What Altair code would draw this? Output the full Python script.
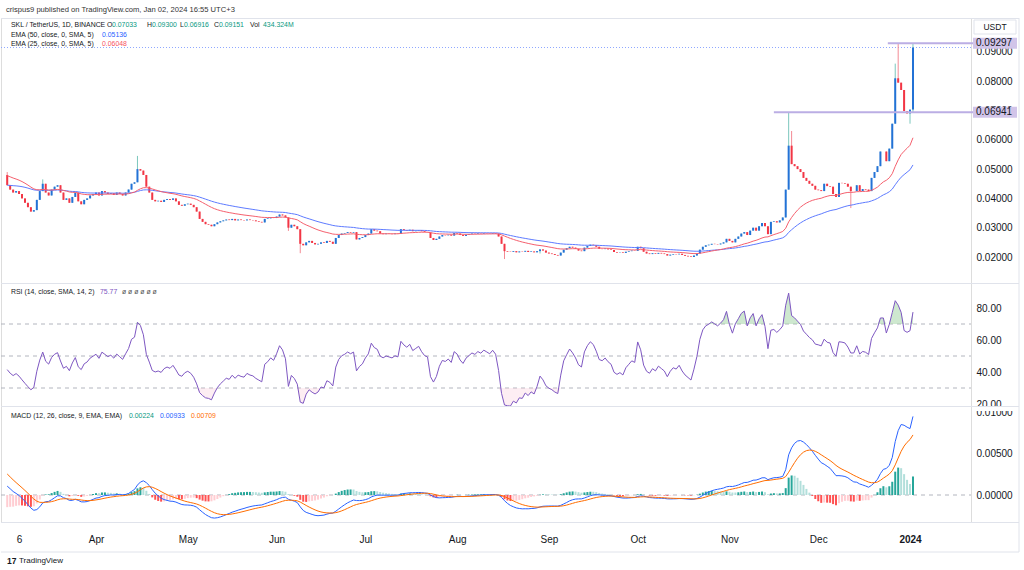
import altair as alt
import pandas as pd
import numpy as np

FONT = "Liberation Sans"

# ---------------- data ----------------
# daily closes, Mar 2 2023 .. Jan 2 2024
close_mar = [0.0445, 0.0430, 0.0420, 0.0425, 0.0415, 0.0400, 0.0385, 0.0370, 0.0355, 0.0360,
             0.0395, 0.0425, 0.0450, 0.0420, 0.0410, 0.0430, 0.0440, 0.0445, 0.0420, 0.0395,
             0.0400, 0.0385, 0.0405, 0.0420, 0.0390, 0.0380, 0.0395, 0.0400, 0.0410, 0.0415]
close_apr = [0.0420, 0.0410, 0.0425, 0.0420, 0.0415, 0.0418, 0.0412, 0.0420, 0.0415, 0.0410,
             0.0420, 0.0430, 0.0450, 0.0455, 0.0500, 0.0495, 0.0480, 0.0440, 0.0420, 0.0395,
             0.0390, 0.0392, 0.0388, 0.0395, 0.0398, 0.0395, 0.0400, 0.0390, 0.0378, 0.0375]
close_may = [0.0380, 0.0382, 0.0378, 0.0370, 0.0355, 0.0330, 0.0320, 0.0312, 0.0310, 0.0305,
             0.0312, 0.0318, 0.0322, 0.0325, 0.0328, 0.0326, 0.0330, 0.0325, 0.0328, 0.0326,
             0.0325, 0.0328, 0.0326, 0.0325, 0.0322, 0.0320, 0.0318, 0.0330, 0.0332, 0.0335, 0.0333]
close_jun = [0.0338, 0.0345, 0.0342, 0.0335, 0.0300, 0.0310, 0.0305, 0.0295, 0.0245, 0.0240,
             0.0250, 0.0255, 0.0248, 0.0243, 0.0245, 0.0250, 0.0248, 0.0255, 0.0252, 0.0245,
             0.0265, 0.0275, 0.0280, 0.0282, 0.0285, 0.0283, 0.0285, 0.0260, 0.0265, 0.0268]
close_jul = [0.0275, 0.0280, 0.0295, 0.0290, 0.0288, 0.0280, 0.0278, 0.0280, 0.0279, 0.0278,
             0.0280, 0.0279, 0.0295, 0.0292, 0.0290, 0.0293, 0.0288, 0.0290, 0.0292, 0.0288,
             0.0285, 0.0284, 0.0265, 0.0258, 0.0262, 0.0270, 0.0275, 0.0274, 0.0276, 0.0273, 0.0282]
close_aug = [0.0280, 0.0275, 0.0272, 0.0276, 0.0278, 0.0280, 0.0279, 0.0281, 0.0280, 0.0282,
             0.0281, 0.0280, 0.0282, 0.0280, 0.0270, 0.0245, 0.0220, 0.0218, 0.0217, 0.0220,
             0.0216, 0.0219, 0.0218, 0.0221, 0.0217, 0.0219, 0.0216, 0.0220, 0.0226, 0.0222, 0.0215]
close_sep = [0.0212, 0.0210, 0.0207, 0.0205, 0.0215, 0.0225, 0.0230, 0.0235, 0.0232, 0.0228,
             0.0222, 0.0220, 0.0232, 0.0238, 0.0242, 0.0240, 0.0235, 0.0228, 0.0227, 0.0229,
             0.0226, 0.0224, 0.0217, 0.0215, 0.0216, 0.0214, 0.0218, 0.0220, 0.0222, 0.0221]
close_oct = [0.0235, 0.0230, 0.0218, 0.0212, 0.0210, 0.0213, 0.0211, 0.0214, 0.0212, 0.0210,
             0.0205, 0.0208, 0.0210, 0.0209, 0.0211, 0.0207, 0.0204, 0.0202, 0.0200, 0.0205,
             0.0212, 0.0225, 0.0235, 0.0240, 0.0242, 0.0245, 0.0244, 0.0243, 0.0246, 0.0250, 0.0262]
close_nov = [0.0255, 0.0250, 0.0262, 0.0270, 0.0280, 0.0285, 0.0275, 0.0290, 0.0300, 0.0290,
             0.0305, 0.0316, 0.0305, 0.0278, 0.0320, 0.0322, 0.0318, 0.0325, 0.0335, 0.0430,
             0.0580, 0.0517, 0.0510, 0.0500, 0.0490, 0.0470, 0.0460, 0.0450, 0.0443, 0.0430]
close_dec = [0.0428, 0.0425, 0.0450, 0.0442, 0.0440, 0.0415, 0.0405, 0.0453, 0.0452, 0.0450,
             0.0440, 0.0425, 0.0425, 0.0445, 0.0425, 0.0432, 0.0430, 0.0425, 0.0470, 0.0490,
             0.0510, 0.0560, 0.0560, 0.0527, 0.0570, 0.0655, 0.0810, 0.0795, 0.0770, 0.0698, 0.0690]
close_jan = [0.0703, 0.0915]

first_open = 0.0480
last_open = 0.07033
# notable wicks (day index -> price)
wick_high = {0: 0.0490, 12: 0.0465, 44: 0.0545, 264: 0.06941, 265: 0.0630,
             300: 0.0860, 301: 0.09297, 306: 0.0930}
wick_low = {95: 0.0289, 99: 0.0213, 168: 0.0193, 180: 0.0212, 285: 0.0367,
            305: 0.0655, 306: 0.06916}

# indicator starting states
ema25_seed, ema50_seed = 0.0480, 0.0445
ema12_seed, ema26_seed, signal_seed = 0.0462, 0.0449, 0.0029
rsi_gain_seed, rsi_loss_seed = 0.0009, 0.0010

level_values = [0.09297, 0.06941]
level_start_days = [297.5, 259.0]

tick_days = [4, 30, 61, 91, 121, 152, 183, 213, 244, 274, 305]
tick_labels = ["6", "Apr", "May", "Jun", "Jul", "Aug", "Sep", "Oct", "Nov", "Dec", "2024"]
price_ticks = [0.02, 0.03, 0.04, 0.05, 0.06, 0.07, 0.08, 0.09]
rsi_ticks = [20, 40, 60, 80]
rsi_levels = [70, 50, 30]
macd_ticks = [0.0, 0.005, 0.01]

# ---------------- derived tables ----------------
closes = (close_mar + close_apr + close_may + close_jun + close_jul + close_aug +
          close_sep + close_oct + close_nov + close_dec + close_jan)
n = len(closes)
opens = [first_open] + closes[:-1]
opens[-1] = last_open
highs = [max(o, c) for o, c in zip(opens, closes)]
lows = [min(o, c) for o, c in zip(opens, closes)]
for k, v in wick_high.items():
    highs[k] = v
for k, v in wick_low.items():
    lows[k] = v


def ema(vals, span, seed):
    a = 2.0 / (span + 1)
    out, e = [], seed
    for v in vals:
        e = e + a * (v - e)
        out.append(e)
    return np.array(out)


ema25 = ema(closes, 25, ema25_seed)
ema50 = ema(closes, 50, ema50_seed)
macd = ema(closes, 12, ema12_seed) - ema(closes, 26, ema26_seed)
signal = ema(macd, 9, signal_seed)
hist = macd - signal

rsi = []
ag, al, prev = rsi_gain_seed, rsi_loss_seed, first_open
for c in closes:
    ch = c - prev
    ag = (ag * 13 + max(ch, 0)) / 14
    al = (al * 13 + max(-ch, 0)) / 14
    rsi.append(100 - 100 / (1 + ag / al))
    prev = c
rsi = np.array(rsi)

UP_BODY, DN_BODY = "#2372D6", "#F23645"
UP_WICK, DN_WICK = "#7CC7BD", "#F38A94"

df = pd.DataFrame({"d": np.arange(n), "o": opens, "c": closes, "h": highs, "l": lows,
                   "ema25": ema25, "ema50": ema50, "rsi": rsi, "macd": macd,
                   "signal": signal, "hist": hist})
up = df["c"] >= df["o"]
df["bc"] = np.where(up, UP_BODY, DN_BODY)
df["wc"] = np.where(up, UP_WICK, DN_WICK)
df["up70"] = np.maximum(df["rsi"], 70)
df["dn30"] = np.minimum(df["rsi"], 30)
df["c70"] = 70.0
df["c30"] = 30.0
df["zero"] = 0.0
hc = []
for i, h in enumerate(hist):
    p = hist[i - 1] if i > 0 else h
    if h >= 0:
        hc.append("#26A69A" if h >= p else "#B2DFDB")
    else:
        hc.append("#FF5252" if h < p else "#FFCDD2")
df["hc"] = hc

levels = pd.DataFrame({"level": level_values, "start": level_start_days,
                       "lab": [f"{v:.5f}" for v in level_values]})
last_px = pd.DataFrame({"p": [closes[-1]]})
rsi_h = pd.DataFrame({"v": rsi_levels})
one = pd.DataFrame({"k": [0]})

# ---------------- layout ----------------
W = 970
H_P, H_R, H_M = 265, 123, 116
BORDER = "#E0E3EB"
TXT = "#131722"
LEG = 6.9

xs = alt.Scale(domain=[-2.1, 325.6], nice=False, zero=False, padding=0)
ps = alt.Scale(domain=[0.01113, 0.10157], nice=False, zero=False, padding=0)
rs = alt.Scale(domain=[18.75, 95.625], nice=False, zero=False, padding=0)
ms = alt.Scale(domain=[-0.003253, 0.010723], nice=False, zero=False, padding=0)


def yaxis(values, fmt):
    return alt.Axis(values=values, format=fmt, orient="right", title=None, grid=False,
                    domain=False, ticks=False, labelPadding=5, labelFontSize=10,
                    labelFont=FONT, labelColor=TXT, labelAlign="left", labelBaseline="middle")


label_expr = " : ".join(f"datum.value == {d} ? '{t}'" for d, t in zip(tick_days, tick_labels)) + " : ''"
time_axis = alt.Axis(values=tick_days, labelExpr=label_expr, title=None, grid=False, domain=False,
                     ticks=False, labelPadding=12, labelFontSize=10, labelFont=FONT,
                     labelColor=TXT, labelFlush=False, labelOverlap=False,
                     labelFontWeight={"condition": {"test": f"datum.value == {tick_days[-1]}",
                                                    "value": "bold"}, "value": "normal"})


def X(f, axis=None):
    return alt.X(f, type="quantitative", scale=xs, axis=axis)


def label(t, x, y, color=TXT, size=LEG, weight="normal", align="left"):
    return alt.Chart(one).mark_text(align=align, baseline="middle", fontSize=size, font=FONT,
                                    color=color, fontWeight=weight).encode(
        x=alt.value(x), y=alt.value(y), text=alt.value(t))


def hrule(y, x1=0, x2=1018, color=BORDER):
    return alt.Chart(one).mark_rule(color=color, strokeWidth=1).encode(
        x=alt.value(x1), x2=alt.value(x2), y=alt.value(y))


def vrule(x, y1, y2, color=BORDER):
    return alt.Chart(one).mark_rule(color=color, strokeWidth=1).encode(
        x=alt.value(x), y=alt.value(y1), y2=alt.value(y2))


# ----- price panel -----
PY = lambda f: alt.Y(f, type="quantitative", scale=ps, axis=yaxis(price_ticks, ".5f"))
base = alt.Chart(df)
wicks = base.mark_rule(strokeWidth=1, clip=True).encode(
    x=X("d"), y=PY("l"), y2="h:Q", color=alt.Color("wc:N", scale=None))
bodies = base.mark_bar(width=2, clip=True).encode(
    x=X("d"), y=PY("o"), y2="c:Q", color=alt.Color("bc:N", scale=None))
l50 = base.mark_line(strokeWidth=1, color="#5E7BFF", clip=True).encode(x=X("d"), y=PY("ema50"))
l25 = base.mark_line(strokeWidth=1, color="#F5606E", clip=True).encode(x=X("d"), y=PY("ema25"))
pline = alt.Chart(last_px).mark_rule(color="#8FA8FF", strokeDash=[1, 2], strokeWidth=1).encode(
    x=alt.value(0), x2=alt.value(W), y=PY("p"))
lev = alt.Chart(levels).mark_rule(color="#BBAEE4", strokeWidth=2).encode(
    x=X("start"), x2=alt.value(1016), y=PY("level"))
lev_box = alt.Chart(levels).mark_rule(color="#D1C4E9", strokeWidth=11, strokeCap="butt").encode(
    x=alt.value(972), x2=alt.value(1016), y=PY("level"))
lev_txt = alt.Chart(levels).mark_text(align="left", baseline="middle", fontSize=10, font=FONT,
                                      color=TXT).encode(x=alt.value(975), y=PY("level"), text="lab:N")

usdt_box = alt.Chart(one).mark_rect(fill="white", stroke=BORDER, strokeWidth=1).encode(
    x=alt.value(973), x2=alt.value(1015), y=alt.value(2), y2=alt.value(16))
price_texts = [
    label("crispus9 published on TradingView.com, Jan 02, 2024 16:55 UTC+3", 5, -8, "#333333", 7.6),
    label("SKL / TetherUS, 1D, BINANCE", 10, 7),
    label("O", 106, 7), label("0.07033", 111, 7, "#089981"),
    label("H", 146, 7), label("0.09300", 151, 7, "#089981"),
    label("L", 179, 7), label("0.06916", 183, 7, "#089981"),
    label("C", 213, 7), label("0.09151", 218, 7, "#089981"),
    label("Vol", 249, 7), label("434.324M", 262, 7, "#089981"),
    label("EMA (50, close, 0, SMA, 5)", 10, 17), label("0.05136", 101, 17, "#2962FF"),
    label("EMA (25, close, 0, SMA, 5)", 10, 26), label("0.06048", 101, 26, "#F7525F"),
    label("USDT", 994, 9, TXT, 8.5, align="center"),
]
top_pad = alt.Chart(one).mark_rule(color="#ffffff", strokeWidth=1).encode(
    x=alt.value(0), x2=alt.value(2), y=alt.value(-17))

price = alt.layer(top_pad, hrule(0.5), vrule(1018, 0, H_P), pline, wicks, bodies, l50, l25,
                  lev, lev_box, lev_txt, usdt_box, *price_texts).properties(width=W, height=H_P)

# ----- RSI panel -----
RY = lambda f: alt.Y(f, type="quantitative", scale=rs, axis=yaxis(rsi_ticks, ".2f"))
rb = alt.Chart(df)
r_hl = alt.Chart(rsi_h).mark_rule(color="#B2B5BE", strokeDash=[4, 4], strokeWidth=1).encode(
    x=alt.value(0), x2=alt.value(W), y=RY("v"))
r_up = rb.mark_area(color="#A5D6A7", opacity=0.55, clip=True).encode(x=X("d"), y=RY("up70"), y2="c70:Q")
r_dn = rb.mark_area(color="#F8BBD0", opacity=0.25, clip=True).encode(x=X("d"), y=RY("dn30"), y2="c30:Q")
r_line = rb.mark_line(color="#7E57C2", strokeWidth=1, clip=True).encode(x=X("d"), y=RY("rsi"))
rsi_texts = [
    label("RSI (14, close, SMA, 14, 2)", 10, 9),
    label("75.77", 99, 9, "#7E57C2"),
    label("ø  ø  ø  ø  ø  ø", 121, 9, "#555555"),
]
rsi_panel = alt.layer(hrule(0.5), vrule(1018, 0, H_R), r_hl, r_up, r_dn, r_line,
                      *rsi_texts).properties(width=W, height=H_R)

# ----- MACD panel -----
MY = lambda f: alt.Y(f, type="quantitative", scale=ms, axis=yaxis(macd_ticks, ".5f"))
mb = alt.Chart(df)
m_zero = alt.Chart(pd.DataFrame({"zero": [0.0]})).mark_rule(
    color="#B2B5BE", strokeDash=[4, 4], strokeWidth=1).encode(x=alt.value(0), x2=alt.value(W), y=MY("zero"))
m_hist = mb.mark_bar(width=2, clip=True).encode(
    x=X("d", time_axis), y=MY("hist"), y2="zero:Q", color=alt.Color("hc:N", scale=None))
m_macd = mb.mark_line(color="#2962FF", strokeWidth=1, clip=True).encode(x=X("d", time_axis), y=MY("macd"))
m_sig = mb.mark_line(color="#FF6D00", strokeWidth=1, clip=True).encode(x=X("d", time_axis), y=MY("signal"))
# the panel above is cut off at the separator, as in the screenshot
cover = alt.Chart(one).mark_rect(fill="white").encode(
    x=alt.value(971), x2=alt.value(1017), y=alt.value(1), y2=alt.value(5))
macd_texts = [
    label("MACD (12, 26, close, 9, EMA, EMA)", 10, 10),
    label("0.00224", 128, 10, "#089981"),
    label("0.00933", 159, 10, "#2962FF"),
    label("0.00709", 190, 10, "#FF6D00"),
    label("17", 6, 155, TXT, 8.5, "bold"),
    label("TradingView", 18, 155, TXT, 8),
]
macd_panel = alt.layer(cover, hrule(0.5), hrule(H_M + 0.5), hrule(H_M + 30), vrule(1018, 0, H_M + 30),
                       m_zero, m_hist, m_macd, m_sig, *macd_texts).properties(width=W, height=H_M)

chart = alt.vconcat(price, rsi_panel, macd_panel, spacing=0, bounds="flush").properties(
    padding={"left": 0, "top": 0, "right": 0, "bottom": 0}
).configure_view(strokeWidth=0).configure(background="white")

chart.save("out.html", embed_options={"renderer": "svg", "actions": False})
